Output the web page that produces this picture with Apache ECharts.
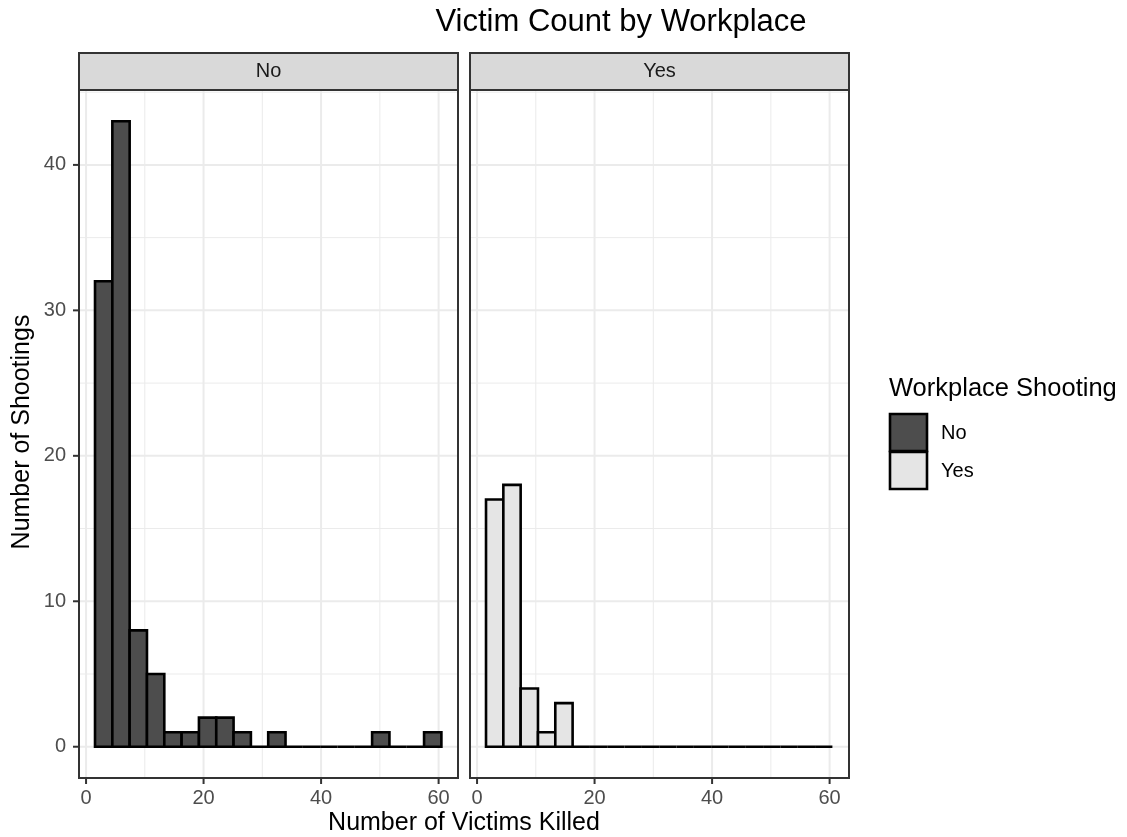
<!DOCTYPE html>
<html>
<head>
<meta charset="utf-8">
<script src="https://cdn.jsdelivr.net/npm/echarts@6/dist/echarts.min.js"></script>
<style>html,body{margin:0;padding:0;background:#fff;}#c{width:1127px;height:837px;}</style>
</head>
<body>
<div id="c"></div>
<script>
// ---- data ----
const binEdges = [1.526, 4.474, 7.421, 10.368, 13.316, 16.263, 19.211, 22.158, 25.105, 28.053,
                  31.0, 33.947, 36.895, 39.842, 42.789, 45.737, 48.684, 51.632, 54.579, 57.526, 60.474];
const countsNo  = [32, 43, 8, 5, 1, 1, 2, 2, 1, 0, 1, 0, 0, 0, 0, 0, 1, 0, 0, 1];
const countsYes = [17, 18, 4, 1, 3, 0, 0, 0, 0, 0, 0, 0, 0, 0, 0, 0, 0, 0, 0, 0];
const panels = ['No', 'Yes'];
const xTicks = [0, 20, 40, 60];
const xMinor = [10, 30, 50];
const yTicks = [0, 10, 20, 30, 40];
const yMinor = [5, 15, 25, 35, 45];
const titleText = 'Victim Count by Workplace';
const xTitle = 'Number of Victims Killed';
const yTitle = 'Number of Shootings';
const legendTitle = 'Workplace Shooting';

// ---- layout / style ----
const FONT = 'Arial, "Liberation Sans", sans-serif';
const fills = ['#4d4d4d', '#e5e5e5'];
const gridLefts = [79, 470];
const gridW = 379, gridTop = 90, gridH = 688;
const xMin = -1.2, xMax = 63.3, yMin = -2.15, yMax = 45.15;
const TICK = 6;

function binData(counts) {
  return counts.map((c, i) => [binEdges[i], binEdges[i + 1], c]);
}

const chart = echarts.init(document.getElementById('c'), null, {renderer: 'canvas'});

const grids = [], xAxes = [], yAxes = [], series = [];
panels.forEach((p, i) => {
  grids.push({left: gridLefts[i], top: gridTop, width: gridW, height: gridH,
    show: true, borderColor: '#333333', borderWidth: 2, backgroundColor: 'transparent', z: 5});
  xAxes.push({type: 'value', gridIndex: i, min: xMin, max: xMax,
    axisLine: {show: false}, splitLine: {show: false}, axisTick: {show: false},
    axisLabel: {show: true, customValues: xTicks, color: '#4d4d4d', fontSize: 20, fontFamily: FONT, margin: 10}});
  yAxes.push({type: 'value', gridIndex: i, min: yMin, max: yMax,
    axisLine: {show: false}, splitLine: {show: false}, axisTick: {show: false},
    axisLabel: {show: i === 0, customValues: yTicks, color: '#4d4d4d', fontSize: 20, fontFamily: FONT, margin: 13}});

  // grid lines (kind: 0 = horizontal line at y value, 1 = vertical line at x value)
  const gl = [];
  xMinor.forEach(v => gl.push([1, v, 1]));
  yMinor.forEach(v => gl.push([0, v, 1]));
  xTicks.forEach(v => gl.push([1, v, 2]));
  yTicks.forEach(v => gl.push([0, v, 2]));
  series.push({
    type: 'custom', xAxisIndex: i, yAxisIndex: i, z: 1, silent: true,
    data: gl,
    encode: {x: -1, y: -1},
    renderItem: function (params, api) {
      const cs = params.coordSys;
      const kind = api.value(0), v = api.value(1), major = api.value(2) === 2;
      let shape;
      if (kind === 1) {
        const px = api.coord([v, 0])[0];
        shape = {x1: px, y1: cs.y, x2: px, y2: cs.y + cs.height};
      } else {
        const py = api.coord([0, v])[1];
        shape = {x1: cs.x, y1: py, x2: cs.x + cs.width, y2: py};
      }
      return {type: 'line', shape: shape,
        style: {stroke: '#ebebeb', lineWidth: major ? 2 : 1}};
    }
  });

  // axis tick marks (kind: 2 = x tick, 3 = y tick)
  const tk = [];
  xTicks.forEach(v => tk.push([2, v]));
  if (i === 0) yTicks.forEach(v => tk.push([3, v]));
  series.push({
    type: 'custom', xAxisIndex: i, yAxisIndex: i, z: 20, silent: true, clip: false,
    data: tk,
    encode: {x: -1, y: -1},
    renderItem: function (params, api) {
      const cs = params.coordSys;
      const kind = api.value(0), v = api.value(1);
      let shape;
      if (kind === 2) {
        const px = api.coord([v, 0])[0];
        shape = {x1: px, y1: cs.y + cs.height, x2: px, y2: cs.y + cs.height + TICK};
      } else {
        const py = api.coord([0, v])[1];
        shape = {x1: cs.x - TICK, y1: py, x2: cs.x, y2: py};
      }
      return {type: 'line', shape: shape, style: {stroke: '#333333', lineWidth: 2}};
    }
  });

  // histogram bars
  series.push({
    type: 'custom', name: p, xAxisIndex: i, yAxisIndex: i, z: 3,
    data: binData(i === 0 ? countsNo : countsYes),
    encode: {x: [0, 1], y: 2},
    renderItem: function (params, api) {
      const a = api.coord([api.value(0), 0]);
      const b = api.coord([api.value(1), api.value(2)]);
      return {type: 'rect',
        shape: {x: a[0], y: b[1], width: b[0] - a[0], height: a[1] - b[1]},
        style: {fill: fills[i], stroke: '#000000', lineWidth: 2.6}};
    }
  });
});

const graphics = [];
panels.forEach((p, i) => {
  graphics.push({type: 'rect', shape: {x: gridLefts[i], y: 53, width: gridW, height: 37},
    style: {fill: '#d9d9d9', stroke: '#333333', lineWidth: 2}, z: 10});
  graphics.push({type: 'text', style: {text: p, x: gridLefts[i] + gridW / 2, y: 71.5,
    textAlign: 'center', textVerticalAlign: 'middle', font: '20px ' + FONT, fill: '#1a1a1a'}, z: 11});
});
graphics.push({type: 'text', style: {text: titleText, x: 621, y: 22,
  textAlign: 'center', textVerticalAlign: 'middle', font: '31px ' + FONT, fill: '#000000'}});
graphics.push({type: 'text', style: {text: xTitle, x: 464, y: 823,
  textAlign: 'center', textVerticalAlign: 'middle', font: '25px ' + FONT, fill: '#000000'}});
graphics.push({type: 'text', rotation: Math.PI / 2, x: 22, y: 432,
  style: {text: yTitle, x: 0, y: 0, textAlign: 'center', textVerticalAlign: 'middle',
    font: '25px ' + FONT, fill: '#000000'}});
// legend
graphics.push({type: 'text', style: {text: legendTitle, x: 889, y: 389,
  textAlign: 'left', textVerticalAlign: 'middle', font: '25.5px ' + FONT, fill: '#000000'}});
panels.forEach((p, i) => {
  graphics.push({type: 'rect', shape: {x: 890, y: 414 + i * 38, width: 37, height: 37},
    style: {fill: fills[i], stroke: '#000000', lineWidth: 2.6}});
  graphics.push({type: 'text', style: {text: p, x: 941, y: 433 + i * 38,
    textAlign: 'left', textVerticalAlign: 'middle', font: '20px ' + FONT, fill: '#000000'}});
});

chart.setOption({
  animation: false,
  backgroundColor: '#ffffff',
  grid: grids, xAxis: xAxes, yAxis: yAxes, series: series,
  graphic: graphics
});
</script>
</body>
</html>
